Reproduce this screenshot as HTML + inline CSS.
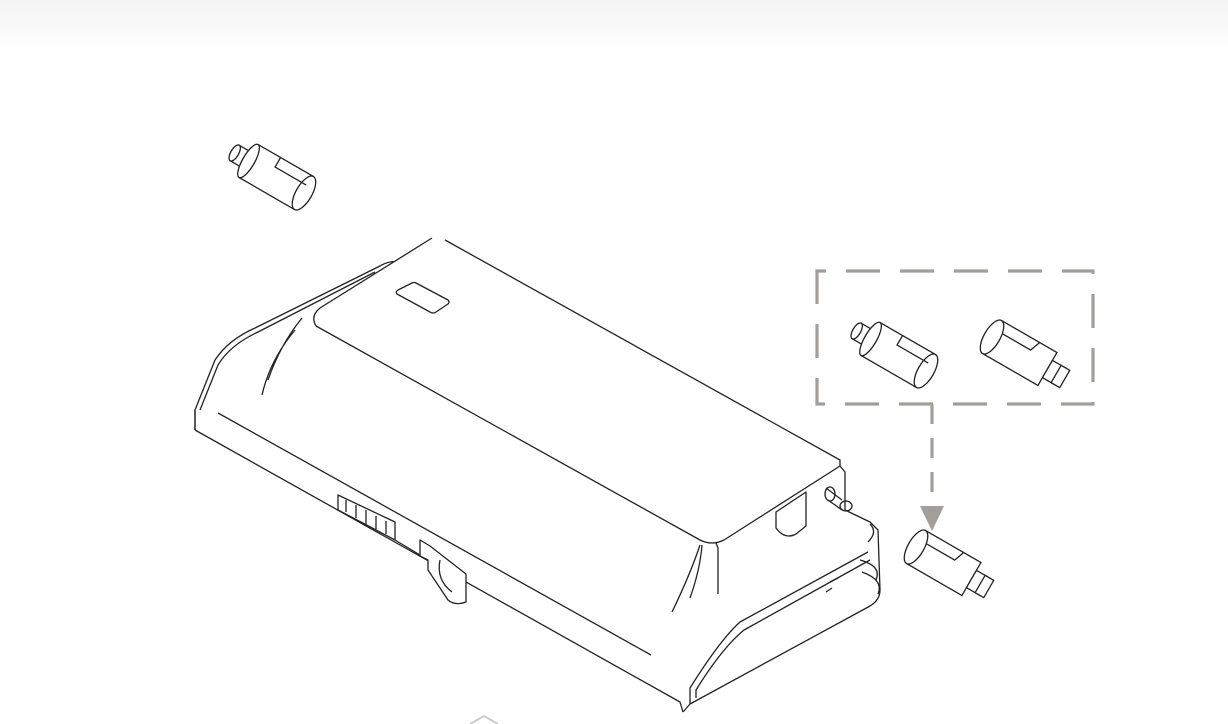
<!DOCTYPE html>
<html><head><meta charset="utf-8"><style>
html,body{margin:0;padding:0;background:#fff;width:1228px;height:724px;overflow:hidden}
.bar{position:absolute;left:0;top:0;width:1228px;height:52px;background:linear-gradient(#f4f4f4,#fbfbfb 70%,#fff)}
svg{position:absolute;left:0;top:0}
</style></head><body>
<div class="bar"></div>
<svg width="1228" height="724" viewBox="0 0 1228 724">
<defs>
<g id="cylL" fill="#fff" stroke="#222" stroke-width="1.3">
  <rect x="-50" y="-9" width="18" height="18" />
  <ellipse cx="-50" cy="0" rx="4" ry="9"/>
  <path d="M-34,-19 L30,-19 L30,19 L-34,19 Z"/>
  <ellipse cx="-34" cy="0" rx="6" ry="19"/>
  <ellipse cx="30" cy="0" rx="8" ry="19"/>
  <path d="M-8,-19 L-8,-8 L28,-8" fill="none"/>
</g>
<g id="cylR" fill="#fff" stroke="#222" stroke-width="1.3">
  <path d="M-30,-19 L34,-19 L34,19 L-30,19 Z"/>
  <ellipse cx="-30" cy="0" rx="8" ry="19"/>
  <path d="M-22,-8 L10,-8 L14,-19" fill="none"/>
  <rect x="34" y="-10" width="16" height="20"/>
  <rect x="44" y="-10" width="10" height="20"/>
</g>
</defs>

<!-- main body -->
<g fill="none" stroke="#222" stroke-width="1.3" stroke-linejoin="round">
  <!-- outer body -->
  <path d="M195,430 L195,410 L215,360 Q228,340 255,328 L380,266 Q390,260 400,262" fill="#fff"/>
  <path d="M200,410 L218,365 Q230,345 258,332 L375,272"/>
  <path d="M195,430 L680,702 L683,712"/>
  <path d="M195,430 L195,410"/>
  <path d="M218,413 L651,655"/>
  <!-- lid -->
  <path d="M432,238 L320,308 Q310,316 316,326 L700,540 Q712,546 724,540 L840,466 L840,460 L445,240" fill="#fff"/>
  <path d="M840,466 L845,472 L845,510"/>
  <path d="M716,543 L718,548 L718,594" />
  <path d="M845,510 L870,522 L878,530 L880,590 Q880,600 870,606 L690,704 L683,712"/>
  <path d="M690,704 L690,688 Q720,640 740,622 L868,552"/>
  <path d="M696,698 L696,690 Q722,648 744,630 L870,560"/>
  <path d="M868,542 Q878,532 870,524"/>
  <path d="M860,560 Q882,566 876,580 M862,572 Q884,580 878,594"/>
  <!-- curved shading lines -->
  <path d="M262,395 Q270,360 295,330 M268,380 Q280,345 302,318"/>
  <path d="M672,612 Q690,575 700,545 M690,598 Q700,570 702,545"/>
  <!-- label on lid -->
  <path d="M398,290 L412,283 Q414,282 416,283 L448,300 Q450,302 448,304 L436,312 Q433,314 430,312 L397,294 Q395,292 398,290 Z"/>
  <!-- connector port -->
  <path d="M338,495 L338,510 L395,540 L395,522 Z"/>
  <path d="M346,500 L346,512 M356,505 L356,518 M366,510 L366,524 M376,516 L376,529 M386,521 L386,534"/>
  <path d="M395,540 L420,555"/>
  <!-- latch -->
  <path d="M420,540 L420,556 L428,560 L428,570 L448,600 Q455,606 466,602 L466,574 L430,546 Z" fill="#fff"/>
  <path d="M440,560 Q436,580 452,592"/>
  <!-- end features -->
  <path d="M776,512 L776,528 Q785,540 796,534 L806,526 L806,492 Z" fill="#fff"/>
  <ellipse cx="846" cy="506" rx="6" ry="5"/>
  <path d="M826,488 L842,500 M828,500 L842,510"/>
  <ellipse cx="830" cy="494" rx="5" ry="7"/>
  <path d="M830,582 L838,578 M826,592 L832,588"/>
</g>

<!-- dashed box -->
<g fill="none" stroke="#a29f9a" stroke-width="3.2" stroke-dasharray="34 20">
  <path d="M817,296 L817,271 L1093,271 L1093,404 L817,404 L817,296"/>
</g>
<path d="M932,404 L932,506" stroke="#a29f9a" stroke-width="3.2" stroke-dasharray="20 14" fill="none"/>
<polygon points="920,506 944,506 932,531" fill="#a29f9a"/>

<!-- cylinders -->
<use href="#cylL" transform="translate(278,178) rotate(30)"/>
<use href="#cylL" transform="translate(900,356) rotate(30)"/>
<use href="#cylR" transform="translate(1018,352) rotate(30)"/>
<use href="#cylR" transform="translate(942,562) rotate(30)"/>
<path d="M470,724 L484,716 L498,724" fill="none" stroke="#ccc" stroke-width="2"/>
</svg>
</body></html>
